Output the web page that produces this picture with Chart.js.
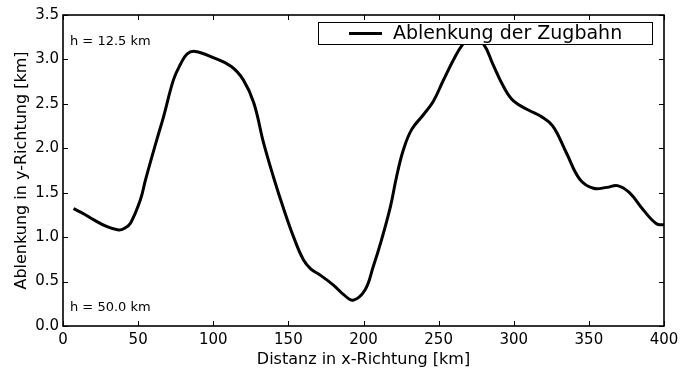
<!DOCTYPE html>
<html>
<head>
<meta charset="utf-8">
<script src="https://cdn.jsdelivr.net/npm/chart.js@4/dist/chart.umd.min.js"></script>
<style>
  html, body { margin: 0; padding: 0; background: #fff; }
  #wrap { width: 684px; height: 369px; }
</style>
</head>
<body>
<div id="wrap"><canvas id="deflection"></canvas></div>
<script>
// distance along x [km]
const distKm = [7, 14, 20, 29, 37, 41, 45, 51.5, 55, 62.5, 67, 73.5, 78, 82.5, 88, 100, 112, 120, 127, 133.5,
    140, 147, 153.5, 160, 165, 171, 180, 187, 193, 201, 206.5, 212, 218, 222, 226.5, 232, 240, 246.5, 253, 260,
    266, 272, 280, 286, 293, 300, 311, 318, 326, 335, 344, 353, 362, 369, 377, 386, 395, 400];
// deflection in y [km]
const deflection = [1.32, 1.26, 1.20, 1.12, 1.08, 1.10, 1.16, 1.42, 1.65, 2.10, 2.36, 2.77, 2.94, 3.06, 3.09, 3.02, 2.92, 2.77, 2.51, 2.06,
    1.68, 1.31, 1.00, 0.745, 0.64, 0.575, 0.46, 0.35, 0.29, 0.405, 0.67, 0.97, 1.35, 1.68, 1.98, 2.21, 2.38, 2.53, 2.76, 3.0,
    3.17, 3.27, 3.17, 2.95, 2.70, 2.53, 2.42, 2.36, 2.25, 1.95, 1.65, 1.55, 1.56, 1.58, 1.50, 1.31, 1.15, 1.14];
const xTicks = [0, 50, 100, 150, 200, 250, 300, 350, 400];
const yTicks = [0, 0.5, 1.0, 1.5, 2.0, 2.5, 3.0, 3.5];
const seriesLabel = 'Ablenkung der Zugbahn';
const notes = ['h = 12.5 km', 'h = 50.0 km'];

const FONT = 'DejaVu Sans';

// frame, inward ticks, legend box and h labels (matplotlib look)
const axesDecor = {
    id: 'axesDecor',
    afterDatasetsDraw(chart) {
        const ctx = chart.ctx;
        const a = chart.chartArea;
        const xs = chart.scales.x, ys = chart.scales.y;
        ctx.save();
        ctx.strokeStyle = '#000';
        ctx.lineWidth = 1;
        xTicks.forEach(v => {
            const px = Math.round(xs.getPixelForValue(v)) + 0.5;
            ctx.beginPath();
            ctx.moveTo(px, a.bottom); ctx.lineTo(px, a.bottom - 5);
            ctx.moveTo(px, a.top); ctx.lineTo(px, a.top + 5);
            ctx.stroke();
        });
        yTicks.forEach(v => {
            const py = Math.round(ys.getPixelForValue(v)) + 0.5;
            ctx.beginPath();
            ctx.moveTo(a.left, py); ctx.lineTo(a.left + 5, py);
            ctx.moveTo(a.right, py); ctx.lineTo(a.right - 5, py);
            ctx.stroke();
        });
        ctx.lineWidth = 1.6;
        ctx.strokeRect(a.left, a.top, a.right - a.left, a.bottom - a.top);

        // legend
        const lx = 318, ly = 22, lw = 334, lh = 22;
        ctx.fillStyle = '#fff';
        ctx.fillRect(lx, ly, lw, lh);
        ctx.lineWidth = 1;
        ctx.strokeRect(lx + 0.5, ly + 0.5, lw, lh);
        ctx.lineWidth = 3;
        ctx.beginPath();
        ctx.moveTo(349, ly + 11.5); ctx.lineTo(382, ly + 11.5);
        ctx.stroke();
        ctx.fillStyle = '#000';
        ctx.font = '19px "' + FONT + '"';
        ctx.textBaseline = 'middle';
        ctx.textAlign = 'left';
        ctx.fillText(seriesLabel, 393, ly + 12);

        // height notes
        ctx.font = '13px "' + FONT + '"';
        ctx.fillText(notes[0], 70, 42);
        ctx.fillText(notes[1], 70, 308);
        ctx.restore();
    }
};

const ctx = document.getElementById('deflection').getContext('2d');
new Chart(ctx, {
    type: 'line',
    data: {
        datasets: [{
            label: seriesLabel,
            data: distKm.map((x, i) => ({ x: x, y: deflection[i] })),
            borderColor: '#000',
            borderWidth: 3,
            pointRadius: 0,
            fill: false,
            tension: 0.4
        }]
    },
    options: {
        responsive: true,
        maintainAspectRatio: false,
        animation: false,
        layout: { padding: { top: 15, right: 20, left: 0, bottom: 0 } },
        plugins: {
            legend: { display: false },
            tooltip: { enabled: false }
        },
        scales: {
            x: {
                type: 'linear',
                min: 0,
                max: 400,
                afterBuildTicks: s => { s.ticks = xTicks.map(v => ({ value: v })); },
                grid: { display: false, drawTicks: false, tickLength: 0 },
                border: { display: false },
                ticks: {
                    color: '#000',
                    font: { family: FONT, size: 15 },
                    padding: 5,
                    maxRotation: 0
                },
                title: {
                    display: true,
                    text: 'Distanz in x-Richtung [km]',
                    color: '#000',
                    font: { family: FONT, size: 16 },
                    padding: { top: 0, bottom: 0 }
                },
                afterFit: s => { s.height = 43; }
            },
            y: {
                type: 'linear',
                min: 0,
                max: 3.5,
                afterBuildTicks: s => { s.ticks = yTicks.map(v => ({ value: v })); },
                grid: { display: false, drawTicks: false, tickLength: 0 },
                border: { display: false },
                ticks: {
                    color: '#000',
                    font: { family: FONT, size: 15 },
                    padding: 4,
                    callback: v => v.toFixed(1)
                },
                title: {
                    display: true,
                    text: 'Ablenkung in y-Richtung [km]',
                    color: '#000',
                    font: { family: FONT, size: 16 },
                    padding: { top: 12, bottom: 0 }
                },
                afterFit: s => { s.width = 63; }
            }
        }
    },
    plugins: [axesDecor]
});
</script>
</body>
</html>
